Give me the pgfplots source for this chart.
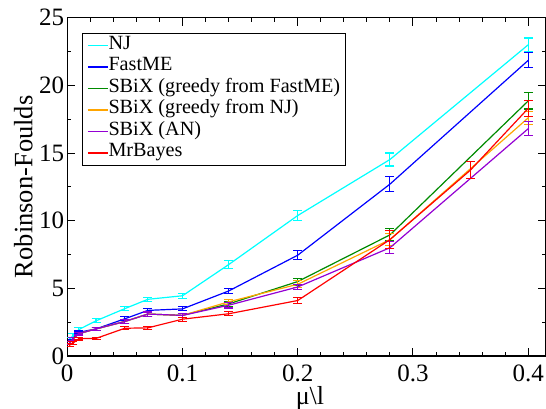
\documentclass[border=0pt]{standalone}
\usepackage{pgfplots}
\pgfplotsset{compat=1.18}
\usepackage{fontspec}
\setmainfont{Liberation Serif}
\definecolor{xcyan}{RGB}{0,255,255}
\definecolor{xblue}{RGB}{0,0,255}
\definecolor{xgreen}{RGB}{0,139,0}
\definecolor{xorange}{RGB}{255,165,0}
\definecolor{xviolet}{RGB}{148,0,211}
\definecolor{xred}{RGB}{255,0,0}
\pgfplotsset{
  ser/.style={line width=1.2pt, no markers, solid, color=#1,
    error bars/.cd, y dir=both, y explicit,
    error bar style={line width=1.1pt, color=#1, solid},
    error mark options={rotate=90, mark size=4.5pt, line width=1.1pt, color=#1, solid}},
}
\begin{document}
\begin{tikzpicture}
\begin{axis}[
  scale only axis, width=478.8pt, height=338.3pt,
  xmin=0, xmax=0.4154, ymin=0, ymax=25,
  xtick={0,0.1,0.2,0.3,0.4}, minor x tick num=4,
  ytick={0,5,10,15,20,25}, minor y tick num=1,
  tick align=inside, major tick length=8pt, minor tick length=4pt,
  axis line style={line width=1.2pt}, every tick/.style={line width=1pt, black},
  xticklabel={\pgfmathprintnumber[assume math mode=true]{\tick}},
  yticklabel={\pgfmathprintnumber[assume math mode=true]{\tick}},
  tick label style={font=\fontsize{25}{25}\selectfont},
  xticklabel style={inner sep=0pt, yshift=-9pt},
  yticklabel style={inner sep=0pt, xshift=-2.8pt},
  xlabel={μ\textbackslash l},
  xlabel style={font=\fontsize{26}{26}\selectfont, at={(axis description cs:0.507,0)}, anchor=north, yshift=-30pt, inner sep=0pt},
  ylabel={Robinson-Foulds},
  ylabel style={font=\fontsize{26.5}{26.5}\selectfont, at={(axis description cs:-0.0725,0.5)}, anchor=base, inner sep=0pt},
  legend cell align=left,
  legend image code/.code={\draw[#1, line width=1.3pt] (0pt,0pt) -- (20pt,0pt);},
  legend style={at={(axis description cs:0.0303,0.9557)}, anchor=north west,
    font=\fontsize{20.2}{21.5}\selectfont, draw=black, line width=1pt,
    inner xsep=5pt, inner ysep=1.6pt, row sep=0pt,
    nodes={inner sep=0pt, text height=14.5pt, text depth=7pt},
    /tikz/every even column/.append style={column sep=10pt}},
]
\addplot[ser=xcyan] table[x=x,y=y,y error=e] {
x y e
0.002 1.2 0.15
0.005 1.5 0.15
0.01 1.95 0.15
0.025 2.6 0.15
0.05 3.5 0.15
0.07 4.19 0.15
0.1 4.45 0.2
0.14 6.75 0.3
0.2 10.38 0.37
0.28 14.52 0.48
0.4 23.0 0.5
};
\addlegendentry{NJ}
\addplot[ser=xblue] table[x=x,y=y,y error=e] {
x y e
0.002 1.0 0.1
0.005 1.3 0.1
0.01 1.75 0.1
0.025 2.0 0.12
0.05 2.75 0.15
0.07 3.37 0.15
0.1 3.48 0.15
0.14 4.8 0.2
0.2 7.45 0.35
0.28 12.7 0.55
0.4 21.85 0.55
};
\addlegendentry{FastME}
\addplot[ser=xgreen] table[x=x,y=y,y error=e] {
x y e
0.002 0.95 0.1
0.005 1.25 0.1
0.01 1.65 0.1
0.025 2.0 0.12
0.05 2.55 0.15
0.07 3.1 0.15
0.1 3.0 0.15
0.14 3.85 0.2
0.2 5.5 0.25
0.28 8.95 0.45
0.4 18.85 0.6
};
\addlegendentry{SBiX (greedy from FastME)}
\addplot[ser=xorange] table[x=x,y=y,y error=e] {
x y e
0.002 0.95 0.1
0.005 1.25 0.1
0.01 1.65 0.1
0.025 2.0 0.12
0.05 2.55 0.15
0.07 3.1 0.15
0.1 3.0 0.15
0.14 4.0 0.2
0.2 5.3 0.25
0.28 8.6 0.45
0.4 17.6 0.5
};
\addlegendentry{SBiX (greedy from NJ)}
\addplot[ser=xviolet] table[x=x,y=y,y error=e] {
x y e
0.002 0.95 0.1
0.005 1.25 0.1
0.01 1.65 0.1
0.025 2.0 0.12
0.05 2.55 0.15
0.07 3.1 0.15
0.1 3.0 0.15
0.14 3.75 0.2
0.2 5.1 0.2
0.28 8.0 0.45
0.4 16.8 0.5
};
\addlegendentry{SBiX (AN)}
\addplot[ser=xred] table[x=x,y=y,y error=e] {
x y e
0.002 0.8 0.1
0.005 0.95 0.12
0.01 1.28 0.1
0.025 1.3 0.1
0.05 2.05 0.12
0.07 2.08 0.1
0.1 2.72 0.15
0.14 3.12 0.15
0.2 4.1 0.22
0.28 8.6 0.65
0.35 13.75 0.65
0.4 18.3 0.6
};
\addlegendentry{MrBayes}
\end{axis}
\pgfresetboundingbox
\useasboundingbox (-67.2pt,-53pt) rectangle (478.8pt,356pt);
\end{tikzpicture}
\end{document}
